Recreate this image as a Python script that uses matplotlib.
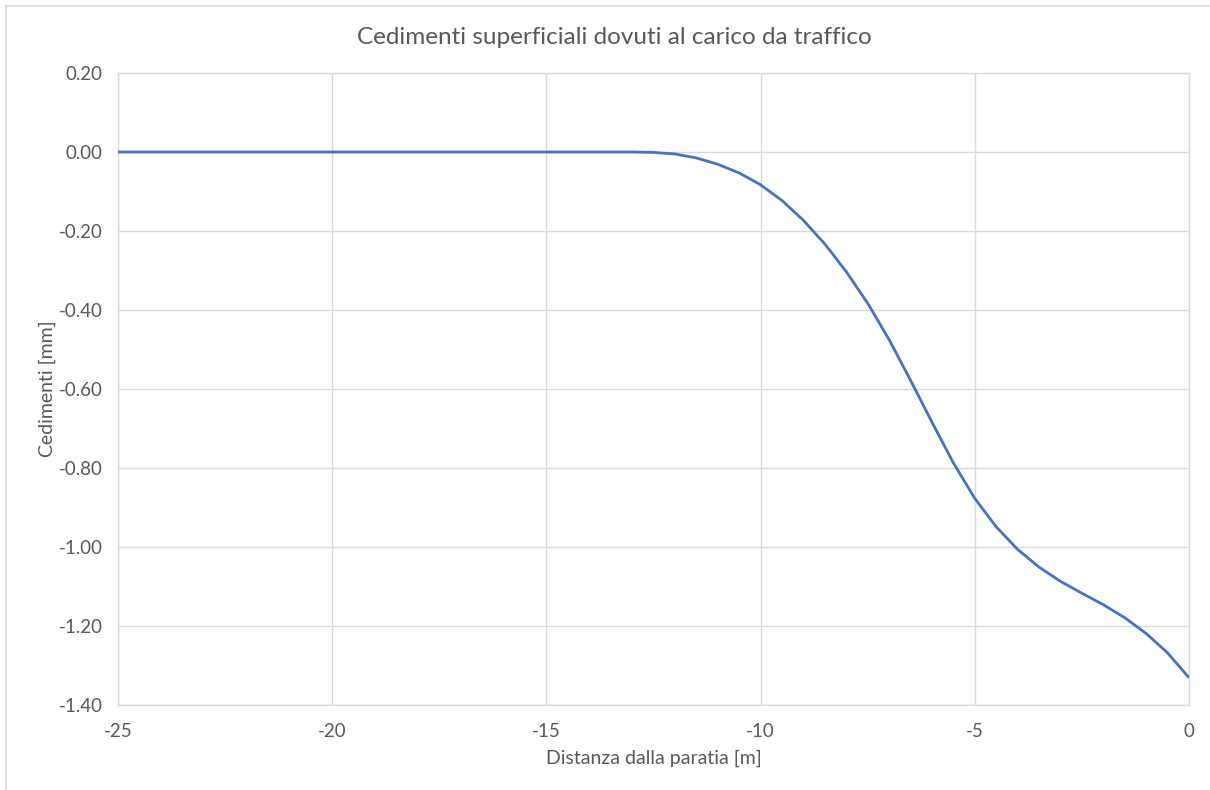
import matplotlib
matplotlib.use("Agg")
import matplotlib.pyplot as plt
from matplotlib.patches import Rectangle
from matplotlib.ticker import FormatStrFormatter

# distance from the wall [m] and settlement [mm]
distanza = [-25, -24, -23, -22, -21, -20, -19, -18, -17, -16, -15, -14, -13,
            -12.5, -12, -11.5, -11, -10.5, -10, -9.5, -9, -8.5, -8, -7.5,
            -7, -6.5, -6, -5.5, -5, -4.5, -4, -3.5, -3, -2.5, -2, -1.5,
            -1, -0.5, 0]
cedimenti = [0, 0, 0, 0, 0, 0, 0, 0, 0, 0, 0, 0, 0,
             -0.001, -0.005, -0.015, -0.031, -0.053, -0.083, -0.123, -0.173,
             -0.233, -0.303, -0.383, -0.475, -0.578, -0.684, -0.787, -0.877,
             -0.949, -1.006, -1.051, -1.087, -1.117, -1.146, -1.179, -1.219,
             -1.268, -1.331]

x_ticks = [-25, -20, -15, -10, -5, 0]
y_ticks = [0.20, 0.00, -0.20, -0.40, -0.60, -0.80, -1.00, -1.20, -1.40]

plt.rcParams['font.family'] = ['Lato', 'DejaVu Sans']
plt.rcParams['axes.unicode_minus'] = False

text_col = '#595959'
grid_col = '#D9D9D9'

fig = plt.figure(figsize=(12.1, 7.9), dpi=100)
ax = fig.add_axes([118/1210, 1 - 705/790, (1189 - 118)/1210, (705 - 73)/790])

ax.plot(distanza, cedimenti, color='#4472C4', linewidth=2.0,
        solid_joinstyle='round', solid_capstyle='butt', zorder=3)

ax.set_xlim(-25, 0)
ax.set_ylim(-1.40, 0.20)
ax.set_xticks(x_ticks)
ax.set_yticks(y_ticks)
ax.yaxis.set_major_formatter(FormatStrFormatter('%.2f'))
ax.grid(True, color=grid_col, linewidth=1.0)
ax.set_axisbelow(True)
for s in ax.spines.values():
    s.set_color(grid_col)
    s.set_linewidth(1.0)
ax.tick_params(length=0, labelsize=13.5, colors=text_col)
ax.tick_params(axis='x', pad=13)
ax.tick_params(axis='y', pad=11)

fig.text(614/1210, 1 - 38/790, 'Cedimenti superficiali dovuti al carico da traffico',
         fontsize=17.5, color=text_col, ha='center', va='center')
ax.set_xlabel('Distanza dalla paratia [m]', fontsize=14, color=text_col, labelpad=7)
ax.set_ylabel('Cedimenti [mm]', fontsize=14, color=text_col, labelpad=2)

# chart frame
fig.patches.append(Rectangle((6/1210, -0.1), 1.2, 1 - 6/790 + 0.1,
                             transform=fig.transFigure, fill=False,
                             edgecolor=grid_col, linewidth=1.2))

fig.savefig('out.png', dpi=100)
